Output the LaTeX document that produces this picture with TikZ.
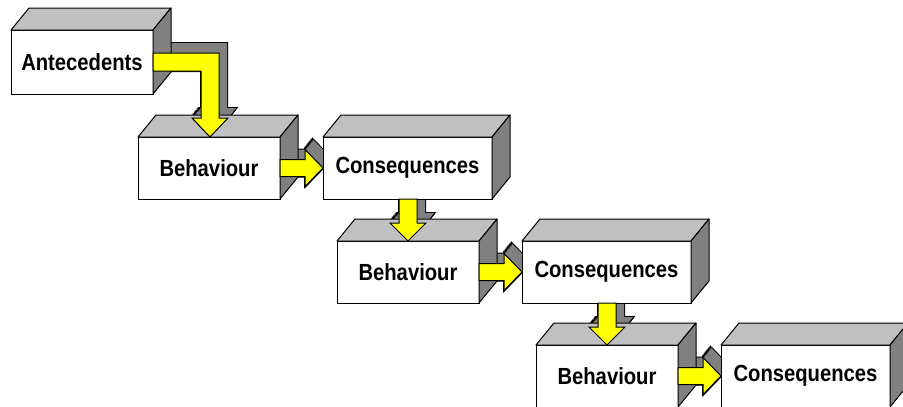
\documentclass[tikz,border=0pt]{standalone}
\usepackage{fontspec}
\setmainfont{Liberation Sans}
\usetikzlibrary{calc}
\pgfdeclarelayer{shade}
\pgfdeclarelayer{ontop}
\pgfsetlayers{shade,main,ontop}
\definecolor{topgray}{HTML}{C0C0C0}
\definecolor{sidegray}{HTML}{808080}
\definecolor{arrowyellow}{HTML}{FFFF00}
\newcommand\narrowtxt[1]{\scalebox{0.92}[1.06]{#1}}
% top and right faces of a block whose front face is node #1
\newcommand\solidfaces[1]{%
  \draw[facetop] (#1.north west) -- ++(18,-22) -- ($(#1.north east)+(18,-22)$) -- (#1.north east) -- cycle;
  \draw[faceside] (#1.north east) -- ++(18,-22) -- ($(#1.south east)+(18,-22)$) -- (#1.south east) -- cycle;
}
% extruded grey body of a block arrow: #1 pic, #2 anchor, #3 offset
\newcommand\extrude[3]{%
  \foreach \k in {0,...,12}{\pic[draw=black, line width=2pt] at ($(#2)+(#3)+(8*\k/12,-10*\k/12)$) {#1};}
  \foreach \k in {0,...,12}{\pic[fill=sidegray] at ($(#2)+(#3)+(8*\k/12,-10*\k/12)$) {#1};}
}
\tikzset{
  block/.style={draw=black, fill=white, line width=1pt, outer sep=0pt, inner sep=0pt,
    minimum height=62pt, font=\fontsize{22}{24}\selectfont\bfseries},
  facetop/.style={draw=black, fill=topgray, line width=1pt, line join=round},
  faceside/.style={draw=black, fill=sidegray, line width=1pt, line join=round},
  yellowarrow/.style={draw=black, fill=arrowyellow, line width=1pt},
  sidearrow/.pic={\path[pic actions] (0,-8.5) -- ++(25,0) -- ++(0,-10) -- ++(18,18.5)
    -- ++(-18,18.5) -- ++(0,-10) -- ++(-25,0) -- cycle;},
  downarrow/.pic={\path[pic actions] (0,0) -- ++(18,0) -- ++(0,24) -- ++(9,0)
    -- ++(-18,18) -- ++(-18,-18) -- ++(9,0) -- cycle;},
  bendarrow/.pic={\path[pic actions] (0,-9) -- ++(66,0) -- ++(0,65) -- ++(9,0)
    -- ++(-18,19) -- ++(-18,-19) -- ++(9,0) -- ++(0,-47) -- ++(-48,0) -- cycle;},
}
\begin{document}
\begin{tikzpicture}[x=1pt, y=-1pt]
\useasboundingbox (0,0) rectangle (903,407);

% blocks
\node[block, minimum width=142pt, minimum height=64pt] (ante) at (82,62) {\narrowtxt{Antecedents}};
\solidfaces{ante}
\foreach \i in {1,2,3}{
  \node[block, minimum width=142pt] (b\i) at ({209+199*(\i-1)},{168+104*(\i-1)}) {\narrowtxt{Behaviour}};
  \solidfaces{b\i}
  \node[block, minimum width=169pt] (c\i) at ({407.5+199*(\i-1)},{168+104*(\i-1)}) {\narrowtxt{Consequences}};
  \solidfaces{c\i}
}

% grey depth of the arrows, behind the blocks
\begin{pgfonlayer}{shade}
  \extrude{bendarrow}{ante.east}{0,0}
  \extrude{sidearrow}{b1.east}{0,0}
  \extrude{sidearrow}{b2.east}{0,0}
  \extrude{sidearrow}{b3.east}{0,0}
  \extrude{downarrow}{c1.south west}{76,0}
  \extrude{downarrow}{c2.south west}{76,0}
\end{pgfonlayer}

% yellow arrow faces
\begin{pgfonlayer}{ontop}
  \pic[yellowarrow] at (ante.east) {bendarrow};
  \pic[yellowarrow] at (b1.east) {sidearrow};
  \pic[yellowarrow] at (b2.east) {sidearrow};
  \pic[yellowarrow] at (b3.east) {sidearrow};
  \pic[yellowarrow] at ($(c1.south west)+(76,0)$) {downarrow};
  \pic[yellowarrow] at ($(c2.south west)+(76,0)$) {downarrow};
\end{pgfonlayer}
\end{tikzpicture}
\end{document}
